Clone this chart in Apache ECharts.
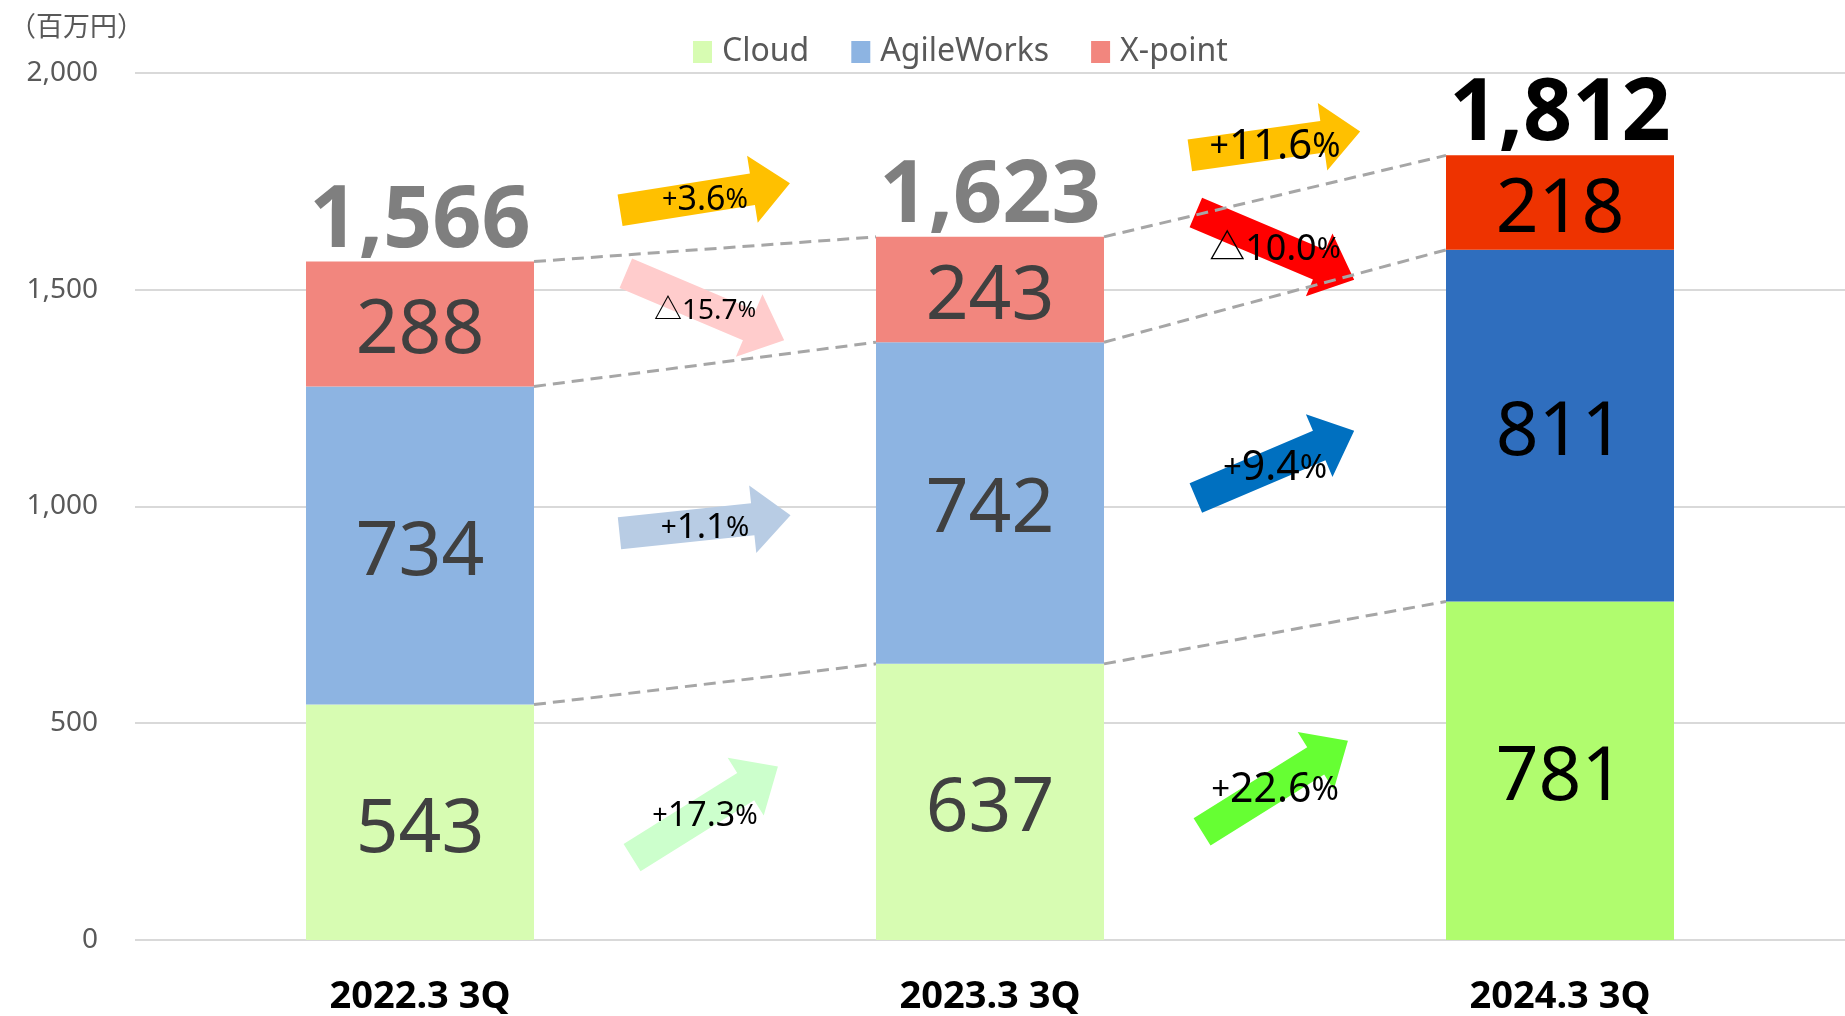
<!DOCTYPE html>
<html>
<head>
<meta charset="utf-8">
<title>売上推移</title>
<script src="https://cdn.jsdelivr.net/npm/echarts@6/dist/echarts.min.js"></script>
<style>
  html, body { margin: 0; padding: 0; background: #fff; }
  #chart { width: 1845px; height: 1016px; }
</style>
</head>
<body>
<div id="chart"></div>
<script>
// data
const categories = ["2022.3 3Q", "2023.3 3Q", "2024.3 3Q"];
const seriesNames = ["Cloud", "AgileWorks", "X-point"];
const cloud = [543, 637, 781];
const agileWorks = [734, 742, 811];
const xPoint = [288, 243, 218];
const totals = [1566, 1623, 1812];
const yTicks = [0, 500, 1000, 1500, 2000];
// growth between periods
const cloudGrowth = ["+17.3%", "+22.6%"];
const agileGrowth = ["+1.1%", "+9.4%"];
const xPointGrowth = ["△15.7%", "△10.0%"];
const totalGrowth = ["+3.6%", "+11.6%"];

// look
const FONT = "'Noto Sans', 'Noto Sans CJK JP', sans-serif";
const legendColors = ["#d7fcb2", "#8db4e2", "#f2867e"];
const barColors = [
  ["#d7fcb2", "#d7fcb2", "#b0fc6e"],
  ["#8db4e2", "#8db4e2", "#2f6ebe"],
  ["#f2867e", "#f2867e", "#ee3300"]
];
const labelColors = ["#404040", "#404040", "#000000"];
const totalColors = ["#7f7f7f", "#7f7f7f", "#000000"];
// per gap, per level (Cloud, AgileWorks, X-point, total)
const arrowColors = [["#ccffcc", "#b8cce4", "#ffcccc", "#ffc000"], ["#66ff33", "#0070c0", "#ff0000", "#ffc000"]];
const arrowAngles = [[32, 6, -23, 9], [32, 23, -23, 8]];
const arrowFonts = [[34, 35, 28, 34], [41, 41, 36, 42]];
const TOTAL_ARROW_LIFT = 120;

const stacks = [cloud, agileWorks, xPoint];
const growth = [cloudGrowth, agileGrowth, xPointGrowth, totalGrowth];
const tops = stacks.map((_, s) =>
  categories.map((_, i) => stacks.slice(0, s + 1).reduce((a, arr) => a + arr[i], 0)));

const connectorData = [];
const arrowData = [];
for (let g = 0; g < categories.length - 1; g++) {
  for (let s = 0; s < stacks.length; s++) {
    connectorData.push([g, tops[s][g], tops[s][g + 1]]);
    const m1 = tops[s][g] - stacks[s][g] / 2;
    const m2 = tops[s][g + 1] - stacks[s][g + 1] / 2;
    arrowData.push([g, (m1 + m2) / 2, s]);
  }
  arrowData.push([g, (totals[g] + totals[g + 1]) / 2 + TOTAL_ARROW_LIFT, 3]);
}

function richText(str) {
  return str.split(/([+%])/).filter(Boolean)
    .map(p => (p === "+" || p === "%") ? "{s|" + p + "}" : "{n|" + p + "}").join("");
}

const chart = echarts.init(document.getElementById("chart"));

const barSeries = stacks.map((vals, s) => ({
  name: seriesNames[s],
  type: "bar",
  stack: "total",
  barWidth: "40%",
  itemStyle: { color: legendColors[s] },
  label: { show: true, position: "inside", fontSize: 75, fontFamily: FONT, offset: [0, 8] },
  data: vals.map((v, i) => ({
    value: v,
    itemStyle: { color: barColors[s][i] },
    label: { color: labelColors[i] }
  })),
  z: 2
}));

chart.setOption({
  animation: false,
  backgroundColor: "#fff",
  title: {
    text: "（百万円）",
    left: 4,
    top: 7,
    textStyle: { fontSize: 27, fontWeight: "normal", color: "#595959", fontFamily: "'Noto Sans CJK JP', sans-serif" }
  },
  legend: {
    data: seriesNames,
    top: 31,
    left: 688,
    icon: "rect",
    itemWidth: 19,
    itemHeight: 22,
    itemGap: 42,
    textStyle: { fontSize: 32, color: "#595959", fontFamily: FONT, padding: [0, 0, 0, 5] }
  },
  grid: { left: 135, right: 0, top: 73, bottom: 74 },
  xAxis: {
    type: "category",
    data: categories,
    axisLine: { show: false },
    axisTick: { show: false },
    axisLabel: { fontSize: 38, fontWeight: "bold", color: "#000", fontFamily: FONT, margin: 38 }
  },
  yAxis: {
    type: "value",
    min: yTicks[0],
    max: yTicks[yTicks.length - 1],
    interval: yTicks[1] - yTicks[0],
    axisLine: { show: false },
    axisTick: { show: false },
    splitLine: { lineStyle: { color: "#d9d9d9", width: 2 } },
    axisLabel: {
      fontSize: 28, color: "#595959", fontFamily: FONT, margin: 37,
      formatter: v => v.toLocaleString("en-US")
    }
  },
  series: [
    ...barSeries,
    {
      type: "custom",
      name: "connector",
      data: connectorData,
      encode: { x: 0, y: [1, 2] },
      silent: true,
      z: 4,
      renderItem(params, api) {
        const g = api.value(0);
        const half = api.size([1, 0])[0] * 0.2;
        const p1 = api.coord([g, api.value(1)]);
        const p2 = api.coord([g + 1, api.value(2)]);
        return {
          type: "line",
          shape: { x1: p1[0] + half, y1: p1[1], x2: p2[0] - half, y2: p2[1] },
          style: { stroke: "#a6a6a6", lineWidth: 3, lineDash: [12, 7] }
        };
      }
    },
    {
      type: "custom",
      name: "arrows",
      data: arrowData,
      encode: { x: 0, y: 1 },
      silent: true,
      z: 3,
      renderItem(params, api) {
        const g = api.value(0), lv = api.value(2);
        const a = api.coord([g, api.value(1)]);
        const b = api.coord([g + 1, api.value(1)]);
        const cx = (a[0] + b[0]) / 2, cy = a[1];
        const L = 172, t = 32, H = 68, h = 38;
        const pts = [[-L / 2, -t / 2], [L / 2 - h, -t / 2], [L / 2 - h, -H / 2], [L / 2, 0],
          [L / 2 - h, H / 2], [L / 2 - h, t / 2], [-L / 2, t / 2]];
        const fs = arrowFonts[g][lv];
        return {
          type: "group",
          children: [
            {
              type: "polygon",
              x: cx, y: cy,
              rotation: arrowAngles[g][lv] * Math.PI / 180,
              shape: { points: pts },
              style: { fill: arrowColors[g][lv] }
            },
            {
              type: "text",
              x: cx, y: cy + 4,
              z2: 10,
              style: {
                text: richText(growth[lv][g]),
                align: "center",
                verticalAlign: "middle",
                fill: "#000",
                rich: {
                  n: { fontSize: fs, fontFamily: FONT, fill: "#000" },
                  s: { fontSize: Math.round(fs * 0.8), fontFamily: FONT, fill: "#000" }
                }
              }
            }
          ]
        };
      }
    },
    {
      type: "custom",
      name: "totals",
      data: totals.map((v, i) => [i, v]),
      encode: { x: 0, y: 1 },
      silent: true,
      z: 5,
      renderItem(params, api) {
        const i = api.value(0);
        const p = api.coord([i, api.value(1)]);
        return {
          type: "text",
          x: p[0], y: p[1] + 4,
          style: {
            text: totals[i].toLocaleString("en-US"),
            align: "center",
            verticalAlign: "bottom",
            fontSize: 86,
            fontWeight: "bold",
            fontFamily: FONT,
            fill: totalColors[i]
          }
        };
      }
    }
  ]
});
</script>
</body>
</html>
